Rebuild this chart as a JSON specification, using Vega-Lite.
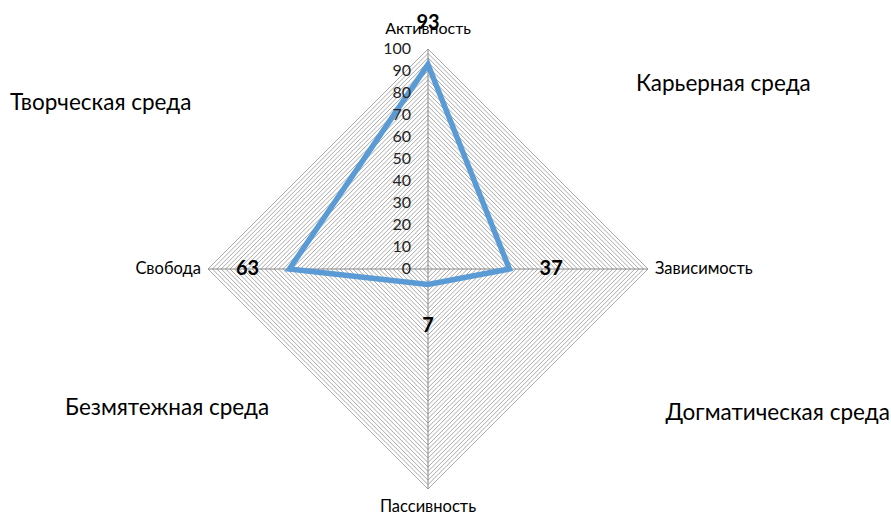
{
  "$schema": "https://vega.github.io/schema/vega-lite/v6.json",
  "width": 440,
  "height": 440,
  "autosize": "none",
  "padding": {"left": 208, "top": 49, "right": 243, "bottom": 27},
  "background": "white",
  "config": {"view": {"stroke": null}, "font": "Lato"},
  "datasets": {
    "scores": [
      {"criterion": "Активность", "value": 93, "angle": 0},
      {"criterion": "Зависимость", "value": 37, "angle": 90},
      {"criterion": "Пассивность", "value": 7, "angle": 180},
      {"criterion": "Свобода", "value": 63, "angle": 270}
    ],
    "gridLevels": [
      {"level": 2}, {"level": 4}, {"level": 6}, {"level": 8}, {"level": 10},
      {"level": 12}, {"level": 14}, {"level": 16}, {"level": 18}, {"level": 20},
      {"level": 22}, {"level": 24}, {"level": 26}, {"level": 28}, {"level": 30},
      {"level": 32}, {"level": 34}, {"level": 36}, {"level": 38}, {"level": 40},
      {"level": 42}, {"level": 44}, {"level": 46}, {"level": 48}, {"level": 50},
      {"level": 52}, {"level": 54}, {"level": 56}, {"level": 58}, {"level": 60},
      {"level": 62}, {"level": 64}, {"level": 66}, {"level": 68}, {"level": 70},
      {"level": 72}, {"level": 74}, {"level": 76}, {"level": 78}, {"level": 80},
      {"level": 82}, {"level": 84}, {"level": 86}, {"level": 88}, {"level": 90},
      {"level": 92}, {"level": 94}, {"level": 96}, {"level": 98}, {"level": 100}
    ],
    "ticks": [
      {"t": 0}, {"t": 10}, {"t": 20}, {"t": 30}, {"t": 40}, {"t": 50},
      {"t": 60}, {"t": 70}, {"t": 80}, {"t": 90}, {"t": 100}
    ],
    "zones": [
      {"zone": "Творческая среда", "zx": -190, "zy": 75.5},
      {"zone": "Карьерная среда", "zx": 94.5, "zy": 84},
      {"zone": "Безмятежная среда", "zx": -165, "zy": -63},
      {"zone": "Догматическая среда", "zx": 108, "zy": -65.5}
    ]
  },
  "layer": [
    {
      "data": {"name": "gridLevels"},
      "transform": [{"calculate": "0", "as": "c"}],
      "mark": {"type": "point", "shape": "diamond", "filled": false, "stroke": "#a9a9a9", "strokeWidth": 1, "opacity": 1},
      "encoding": {
        "x": {"field": "c", "type": "quantitative", "scale": {"domain": [-100, 100], "nice": false}, "axis": null},
        "y": {"field": "c", "type": "quantitative", "scale": {"domain": [-100, 100], "nice": false}, "axis": null},
        "size": {"field": "level", "type": "quantitative", "scale": {"type": "pow", "exponent": 2, "domain": [0, 100], "range": [0, 193600]}, "legend": null}
      }
    },
    {
      "data": {"name": "scores"},
      "transform": [
        {"calculate": "0", "as": "c"},
        {"calculate": "100 * sin(datum.angle * PI / 180)", "as": "ex"},
        {"calculate": "100 * cos(datum.angle * PI / 180)", "as": "ey"}
      ],
      "mark": {"type": "rule", "color": "#868686", "strokeWidth": 1},
      "encoding": {
        "x": {"field": "c", "type": "quantitative"},
        "y": {"field": "c", "type": "quantitative"},
        "x2": {"field": "ex"},
        "y2": {"field": "ey"}
      }
    },
    {
      "data": {"name": "scores"},
      "transform": [
        {"calculate": "datum.value * sin(datum.angle * PI / 180)", "as": "px"},
        {"calculate": "datum.value * cos(datum.angle * PI / 180)", "as": "py"}
      ],
      "mark": {"type": "line", "interpolate": "linear-closed", "color": "#5b9bd5", "strokeWidth": 5.5, "strokeJoin": "miter"},
      "encoding": {
        "x": {"field": "px", "type": "quantitative"},
        "y": {"field": "py", "type": "quantitative"},
        "order": {"field": "angle", "type": "quantitative"}
      }
    },
    {
      "data": {"name": "ticks"},
      "transform": [{"calculate": "0", "as": "c"}],
      "mark": {"type": "text", "align": "right", "baseline": "middle", "dx": -17, "fontSize": 16, "color": "#222222"},
      "encoding": {
        "x": {"field": "c", "type": "quantitative"},
        "y": {"field": "t", "type": "quantitative"},
        "text": {"field": "t", "type": "quantitative"}
      }
    },
    {
      "data": {"name": "scores"},
      "transform": [
        {"calculate": "(datum.value + 19) * sin(datum.angle * PI / 180)", "as": "lx"},
        {"calculate": "(datum.value + 19) * cos(datum.angle * PI / 180)", "as": "ly"}
      ],
      "mark": {"type": "text", "align": "center", "baseline": "middle", "fontSize": 20, "fontWeight": "bold", "color": "#000000"},
      "encoding": {
        "x": {"field": "lx", "type": "quantitative"},
        "y": {"field": "ly", "type": "quantitative"},
        "text": {"field": "value", "type": "quantitative"}
      }
    },
    {
      "data": {"name": "scores"},
      "transform": [
        {"calculate": "100 * sin(datum.angle * PI / 180)", "as": "ex"},
        {"calculate": "100 * cos(datum.angle * PI / 180)", "as": "ey"},
        {"filter": "datum.angle == 0"}
      ],
      "mark": {"type": "text", "align": "center", "baseline": "middle", "dy": -20, "fontSize": 16, "color": "#000000"},
      "encoding": {
        "x": {"field": "ex", "type": "quantitative"},
        "y": {"field": "ey", "type": "quantitative"},
        "text": {"field": "criterion", "type": "nominal"}
      }
    },
    {
      "data": {"name": "scores"},
      "transform": [
        {"calculate": "100 * sin(datum.angle * PI / 180)", "as": "ex"},
        {"calculate": "100 * cos(datum.angle * PI / 180)", "as": "ey"},
        {"filter": "datum.angle == 90"}
      ],
      "mark": {"type": "text", "align": "left", "baseline": "middle", "dx": 7, "fontSize": 16.5, "color": "#000000"},
      "encoding": {
        "x": {"field": "ex", "type": "quantitative"},
        "y": {"field": "ey", "type": "quantitative"},
        "text": {"field": "criterion", "type": "nominal"}
      }
    },
    {
      "data": {"name": "scores"},
      "transform": [
        {"calculate": "100 * sin(datum.angle * PI / 180)", "as": "ex"},
        {"calculate": "100 * cos(datum.angle * PI / 180)", "as": "ey"},
        {"filter": "datum.angle == 180"}
      ],
      "mark": {"type": "text", "align": "center", "baseline": "middle", "dy": 18, "fontSize": 16.5, "color": "#000000"},
      "encoding": {
        "x": {"field": "ex", "type": "quantitative"},
        "y": {"field": "ey", "type": "quantitative"},
        "text": {"field": "criterion", "type": "nominal"}
      }
    },
    {
      "data": {"name": "scores"},
      "transform": [
        {"calculate": "100 * sin(datum.angle * PI / 180)", "as": "ex"},
        {"calculate": "100 * cos(datum.angle * PI / 180)", "as": "ey"},
        {"filter": "datum.angle == 270"}
      ],
      "mark": {"type": "text", "align": "right", "baseline": "middle", "dx": -7, "fontSize": 16.5, "color": "#000000"},
      "encoding": {
        "x": {"field": "ex", "type": "quantitative"},
        "y": {"field": "ey", "type": "quantitative"},
        "text": {"field": "criterion", "type": "nominal"}
      }
    },
    {
      "data": {"name": "zones"},
      "mark": {"type": "text", "align": "left", "baseline": "middle", "fontSize": 22.5, "color": "#000000"},
      "encoding": {
        "x": {"field": "zx", "type": "quantitative"},
        "y": {"field": "zy", "type": "quantitative"},
        "text": {"field": "zone", "type": "nominal"}
      }
    }
  ]
}
